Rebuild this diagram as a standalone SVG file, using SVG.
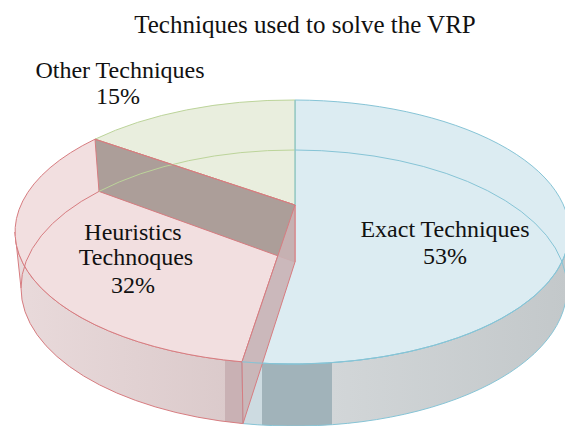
<svg xmlns="http://www.w3.org/2000/svg" width="565" height="426" viewBox="0 0 565 426">
<defs>
<style>
.txt{fill:#111;text-anchor:middle}
.eS{stroke:#86c4d6;stroke-width:1;fill:none}
.hS{stroke:#d77c80;stroke-width:1;fill:none}
.oS{stroke:#bcd49a;stroke-width:1;fill:none}
</style>
<linearGradient id="gH" gradientUnits="userSpaceOnUse" x1="15" y1="0" x2="243" y2="0"><stop offset="0" stop-color="#e9dadb"/><stop offset="1" stop-color="#dac9ca"/></linearGradient>
<linearGradient id="gE" gradientUnits="userSpaceOnUse" x1="332" y1="0" x2="567" y2="0"><stop offset="0" stop-color="#d2d6d8"/><stop offset="1" stop-color="#c3c8ca"/></linearGradient>
<clipPath id="cH"><path d="M15,232 A277,132 0 0 0 242,361.8 L243,423.6 A273,138 0 0 1 21,288 Z"/></clipPath>
<clipPath id="cE"><path d="M242,361.8 A277,132 0 0 0 569,232 L567,288 A273,138 0 0 1 243,423.6 Z"/></clipPath>
</defs>
<rect width="565" height="426" fill="#ffffff"/>
<g font-family="Liberation Serif, Times New Roman, serif">
<text class="txt" font-size="25" x="305" y="33">Techniques used to solve the VRP</text>
</g>

<g id="slice-heuristics-side">
<path d="M15,232 A277,132 0 0 0 242,361.8 L243,423.6 A273,138 0 0 1 21,288 Z" fill="url(#gH)"/>
<rect x="225" y="340" width="18" height="90" fill="#c9b1b4" clip-path="url(#cH)"/>
<path class="hS" d="M15,232 A277,132 0 0 0 242,361.8 L243,423.6 A273,138 0 0 1 21,288 Z"/>
</g>
<g id="slice-exact-side">
<path d="M242,361.8 A277,132 0 0 0 569,232 L567,288 A273,138 0 0 1 243,423.6 Z" fill="url(#gE)"/>
<rect x="243" y="340" width="19" height="90" fill="#cddbe1" clip-path="url(#cE)"/>
<rect x="262" y="340" width="70" height="90" fill="#a1b3ba" clip-path="url(#cE)"/>
<path class="eS" d="M242,361.8 A277,132 0 0 0 569,232 L567,288 A273,138 0 0 1 243,423.6 Z"/>
</g>

<g id="slice-exact-top">
<path d="M295,205 L295,100 A277,132 0 1 1 242,361.8 Z" fill="#dcecf2" stroke="#86c4d6" stroke-width="1"/>
</g>
<g id="slice-heuristics-top">
<path d="M295,205 L242,361.8 A277,132 0 0 1 95,139.2 Z" fill="#f2dfe0" stroke="#d77c80" stroke-width="1"/>
</g>
<g id="slice-other-top">
<path d="M295,205 L95,139.2 A277,132 0 0 1 295,100 Z" fill="#e9eede" stroke="#bcd49a" stroke-width="1"/>
</g>

<g id="walls">
<path d="M95,139.2 L295,205 L295,262 L99,191.4 Z" fill="#ac9e99" stroke="#d77c80" stroke-width="1"/>
<path d="M295,205 L242,361.8 L243,423.6 L295,262 Z" fill="#c9b2b5" fill-opacity="0.9" stroke="#d77c80" stroke-width="1"/>
</g>

<g id="edges">
<path class="hS" d="M21,288 A273,138 0 0 1 99,191.4"/>
<path class="oS" d="M99,191.4 A273,138 0 0 1 295,150"/>
<path class="eS" d="M295,150 A273,138 0 0 1 567,288"/>
<path class="eS" d="M295,100 L295,205"/>
<path class="hS" d="M95,139.2 L295,205"/>
<path class="eS" d="M242,361.8 A277,132 0 0 0 569,232"/>
</g>

<g font-family="Liberation Serif, Times New Roman, serif" font-size="24">
<g id="label-other">
<text class="txt" x="120" y="78">Other Techniques</text>
<text class="txt" x="118" y="104">15%</text>
</g>
<g id="label-heuristics">
<text class="txt" x="133" y="240">Heuristics</text>
<text class="txt" x="136" y="265">Technoques</text>
<text class="txt" x="133" y="293">32%</text>
</g>
<g id="label-exact">
<text class="txt" x="445" y="237">Exact Techniques</text>
<text class="txt" x="445" y="264">53%</text>
</g>
</g>
</svg>
